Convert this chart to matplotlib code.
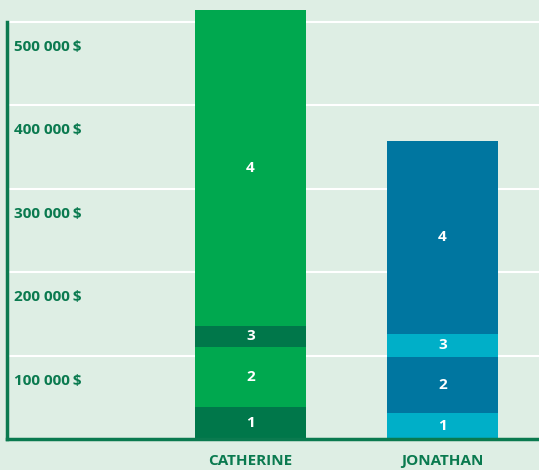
import matplotlib
matplotlib.use("Agg")
import matplotlib.pyplot as plt
import matplotlib.transforms as mtransforms
import numpy as np

categories = ["CATHERINE", "JONATHAN"]
segment_labels = ["1", "2", "3", "4"]
catherine = [38400, 72000, 25200, 379200]
jonathan = [31200, 67200, 27600, 231600]
series = [catherine, jonathan]
yticks = [100000, 200000, 300000, 400000, 500000]
ytick_labels = ["100 000\u2009$", "200 000\u2009$", "300 000\u2009$", "400 000\u2009$", "500 000\u2009$"]

colors = [
    ["#00774a", "#00a84f", "#00774a", "#00a84f"],
    ["#00afc8", "#0076a0", "#00afc8", "#0076a0"],
]
bg = "#deeee4"
dark = "#0a7a4f"

plt.rcParams['font.family'] = ['Open Sans', 'DejaVu Sans']

W, H = 539, 470
fig = plt.figure(figsize=(W / 100, H / 100), dpi=100)
fig.patch.set_facecolor(bg)
ax = fig.add_axes([7 / W, (H - 439) / H, 532 / W, 439 / H])
ax.set_facecolor(bg)

ax.set_ylim(0, 526400)
ax.set_xlim(-1.268, 1.503)

for y in yticks:
    ax.axhline(y, color="white", lw=1.5, zorder=1)

x = np.arange(len(categories))
width = 0.578
for i, vals in enumerate(series):
    bottom = 0
    for j, v in enumerate(vals):
        ax.bar(x[i], v, width, bottom=bottom, color=colors[i][j], zorder=2)
        ax.text(x[i], bottom + v / 2, segment_labels[j], ha="center", va="center",
                color="white", fontsize=11, fontweight="bold", zorder=3)
        bottom += v

for s in ["top", "right"]:
    ax.spines[s].set_visible(False)
ax.spines["left"].set_color(dark)
ax.spines["left"].set_linewidth(2.5)
ax.spines["left"].set_bounds(0, 500000)
ax.spines["bottom"].set_color(dark)
ax.spines["bottom"].set_linewidth(2.5)
ax.set_yticks([])
ax.set_xticks([])

trans = mtransforms.blended_transform_factory(fig.transFigure, ax.transData)
off = mtransforms.ScaledTranslation(0, -25 / 100, fig.dpi_scale_trans)
for y, lab in zip(yticks, ytick_labels):
    ax.text(14 / W, y, lab, transform=trans + off, ha="left", va="center",
            color=dark, fontsize=11, fontweight="bold")

ctrans = mtransforms.blended_transform_factory(ax.transData, fig.transFigure)
for i, c in enumerate(categories):
    ax.text(x[i], (H - 461) / H, c, transform=ctrans,
            ha="center", va="center", color=dark, fontsize=11, fontweight="bold")

fig.savefig("out.png", dpi=100, facecolor=bg)
